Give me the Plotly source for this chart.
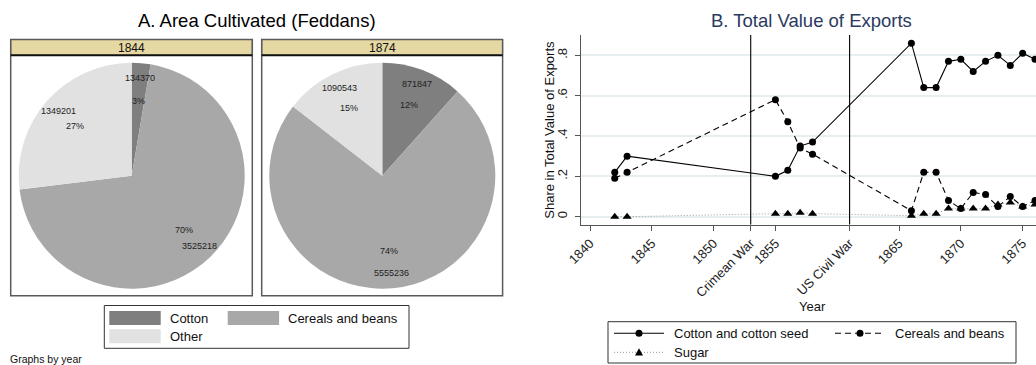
import math
import plotly.graph_objects as go

W, H = 1036, 365

# ---------------- Panel A data ----------------
pie_years = ["1844", "1874"]
crops = ["Cotton", "Cereals and beans", "Other"]
area_1844 = [134370, 3525218, 1349201]
area_1874 = [871847, 5555236, 1090543]
crop_colors = ["#7f7f7f", "#a8a8a8", "#e1e1e1"]

# ---------------- Panel B data ----------------
years = [1842, 1843, 1855, 1856, 1857, 1858, 1866, 1867, 1868, 1869,
         1870, 1871, 1872, 1873, 1874, 1875, 1876]
cotton_share = [0.22, 0.30, 0.20, 0.23, 0.35, 0.37, 0.86, 0.64, 0.64, 0.77,
                0.78, 0.72, 0.77, 0.80, 0.75, 0.81, 0.78]
cereals_share = [0.19, 0.22, 0.58, 0.47, 0.34, 0.31, 0.03, 0.22, 0.22, 0.08,
                 0.04, 0.12, 0.11, 0.05, 0.10, 0.05, 0.08]
sugar_share = [0.00, 0.00, 0.015, 0.015, 0.02, 0.015, 0.005, 0.015, 0.015, 0.04,
               0.04, 0.04, 0.04, 0.06, 0.07, 0.05, 0.06]
series_names = ["Cotton and cotton seed", "Cereals and beans", "Sugar"]
war_years = [1853, 1861]
war_labels = ["Crimean War", "US Civil War"]
x_tick_years = [1840, 1845, 1850, 1855, 1865, 1870, 1875]
y_tick_vals = [0, 0.2, 0.4, 0.6, 0.8]
y_tick_text = ["0", ".2", ".4", ".6", ".8"]
x_title = "Year"
y_title = "Share in Total Value of Exports"

FONT = "Liberation Sans, Arial, Helvetica, sans-serif"


def px(x):
    return x / W


def py(y):
    return 1 - y / H


fig = go.Figure()
shapes = []
annotations = []

# ---------------- Panel A: pies ----------------
pie_centers = [(131.7, 175.7), (382.3, 175.7)]
R = 113
panels = [(10.7, 252.3), (261.7, 502.6)]
for yr, vals, (cx, cy), (bx0, bx1) in zip(pie_years, [area_1844, area_1874], pie_centers, panels):
    shapes.append(dict(type="rect", xref="paper", yref="paper",
                       x0=px(bx0), x1=px(bx1), y0=py(295.7), y1=py(39.5),
                       line=dict(color="#5a5a5a", width=1.5), fillcolor="rgba(0,0,0,0)", layer="above"))
    shapes.append(dict(type="rect", xref="paper", yref="paper",
                       x0=px(bx0), x1=px(bx1), y0=py(55.3), y1=py(39.5),
                       line=dict(color="#5a5a5a", width=1), fillcolor="#e5d8a2", layer="below"))
    shapes.append(dict(type="line", xref="paper", yref="paper",
                       x0=px(bx0), x1=px(bx1), y0=py(55.3), y1=py(55.3),
                       line=dict(color="#111111", width=2), layer="above"))
    annotations.append(dict(text=yr, xref="paper", yref="paper", x=px((bx0 + bx1) / 2), y=py(47.6),
                            showarrow=False, xanchor="center", yanchor="middle",
                            font=dict(size=12, color="#111", family=FONT)))
    fig.add_trace(go.Pie(
        labels=crops, values=vals, sort=False, direction="clockwise", rotation=0,
        marker=dict(colors=crop_colors, line=dict(width=0)),
        textinfo="none", hoverinfo="label+value+percent", showlegend=False,
        domain=dict(x=[px(cx - R), px(cx + R)], y=[py(cy + R), py(cy - R)]),
    ))
    tot = sum(vals)
    cum = 0
    for v in vals:
        mid = (cum + v / 2) / tot * 2 * math.pi
        cum += v
        for f, txt in [(0.865, str(v)), (0.665, f"{round(100 * v / tot)}%")]:
            lx = cx + R * f * math.sin(mid)
            ly = cy - R * f * math.cos(mid)
            annotations.append(dict(text=txt, xref="paper", yref="paper", x=px(lx), y=py(ly),
                                    showarrow=False, xanchor="center", yanchor="middle",
                                    font=dict(size=9, color="#222", family=FONT)))

annotations.append(dict(text="A. Area Cultivated (Feddans)", xref="paper", yref="paper",
                        x=px(256.7), y=py(21), showarrow=False, xanchor="center", yanchor="middle",
                        font=dict(size=18.5, color="#000", family=FONT)))

# left legend (manual, swatches)
shapes.append(dict(type="rect", xref="paper", yref="paper", x0=px(104.3), x1=px(409),
                   y0=py(348.3), y1=py(305.5), line=dict(color="#333", width=1)))
leg_pos = [(109.3, 311, 168.3), (227.7, 311, 286), (109.3, 329.3, 168.3)]
for name, col, (sx, sy, tx) in zip(crops, crop_colors, leg_pos):
    shapes.append(dict(type="rect", xref="paper", yref="paper", x0=px(sx), x1=px(sx + 51.4),
                       y0=py(sy + 14), y1=py(sy), line=dict(width=0), fillcolor=col))
    annotations.append(dict(text=name, xref="paper", yref="paper", x=px(tx), y=py(sy + 7),
                            showarrow=False, xanchor="left", yanchor="middle",
                            font=dict(size=13, color="#111", family=FONT)))

annotations.append(dict(text="Graphs by year", xref="paper", yref="paper", x=px(8), y=py(359),
                        showarrow=False, xanchor="left", yanchor="middle",
                        font=dict(size=10.5, color="#111", family=FONT)))

# ---------------- Panel B: line chart ----------------
line_styles = [
    dict(color="#000", width=1.1, dash="solid"),
    dict(color="#000", width=1.1, dash="6px,4px"),
    dict(color="#9a9a9a", width=1, dash="1px,2px"),
]
marker_styles = [
    dict(symbol="circle", size=7, color="#000"),
    dict(symbol="circle", size=7, color="#000"),
    dict(symbol="triangle-up", size=8, color="#000"),
]
for name, ys, ls, ms in zip(series_names, [cotton_share, cereals_share, sugar_share], line_styles, marker_styles):
    fig.add_trace(go.Scatter(x=years, y=ys, name=name, mode="lines+markers",
                             line=ls, marker=ms, showlegend=False,
                             xaxis="x", yaxis="y"))

for wy in war_years:
    shapes.append(dict(type="line", xref="x", yref="y domain", x0=wy, x1=wy, y0=0, y1=1,
                       line=dict(color="#000", width=1.1)))

annotations.append(dict(text="B. Total Value of Exports", xref="paper", yref="paper",
                        x=px(811.7), y=py(21), showarrow=False, xanchor="center", yanchor="middle",
                        font=dict(size=18.5, color="#2a3a60", family=FONT)))
annotations.append(dict(text=x_title, xref="paper", yref="paper",
                        x=px(812.3), y=py(306), showarrow=False, xanchor="center", yanchor="middle",
                        font=dict(size=13, color="#111", family=FONT)))
annotations.append(dict(text=y_title, xref="paper", yref="paper", textangle=-90,
                        x=px(550), y=py(129.75), showarrow=False, xanchor="center", yanchor="middle",
                        font=dict(size=13, color="#111", family=FONT)))

# right legend (manual)
shapes.append(dict(type="rect", xref="paper", yref="paper", x0=px(608), x1=px(1016),
                   y0=py(363), y1=py(321.7), line=dict(color="#333", width=1)))
rleg = [(614, 333.3, 671.7), (835, 333.3, 893.3), (614, 352.3, 671.7)]
for name, ls, ms, (lx, ly, tx) in zip(series_names, line_styles, marker_styles, rleg):
    shapes.append(dict(type="line", xref="paper", yref="paper", x0=px(lx), x1=px(lx + 50),
                       y0=py(ly), y1=py(ly), line=ls))
    mx = lx + 25
    if ms["symbol"] == "circle":
        shapes.append(dict(type="circle", xref="paper", yref="paper", x0=px(mx - 3.5), x1=px(mx + 3.5),
                           y0=py(ly + 3.5), y1=py(ly - 3.5), line=dict(width=0), fillcolor="#000"))
    else:
        path = "M {:.4f} {:.4f} L {:.4f} {:.4f} L {:.4f} {:.4f} Z".format(
            px(mx - 4), py(ly + 3.2), px(mx + 4), py(ly + 3.2), px(mx), py(ly - 4))
        shapes.append(dict(type="path", xref="paper", yref="paper", path=path,
                           line=dict(width=0), fillcolor="#000"))
    annotations.append(dict(text=name, xref="paper", yref="paper", x=px(tx), y=py(ly),
                            showarrow=False, xanchor="left", yanchor="middle",
                            font=dict(size=13, color="#111", family=FONT)))

tickvals = sorted(x_tick_years + war_years)
ticktext = [war_labels[war_years.index(t)] if t in war_years else str(t) for t in tickvals]

fig.update_layout(
    width=W, height=H,
    margin=dict(l=0, r=0, t=0, b=0, pad=0),
    paper_bgcolor="white", plot_bgcolor="white",
    font=dict(family=FONT, size=13, color="#111"),
    shapes=shapes, annotations=annotations,
    showlegend=False,
    xaxis=dict(domain=[px(581), 1], range=[1839.27, 1876.08], automargin=False,
               tickvals=tickvals, ticktext=ticktext, tickangle=-45,
               showgrid=False, zeroline=False, showline=True, linecolor="#555", linewidth=1.2,
               ticks="outside", ticklen=5, tickcolor="#555",
               tickfont=dict(size=13, color="#222")),
    yaxis=dict(domain=[py(224.5), py(35)], range=[-0.0387, 0.9006], automargin=False,
               tickvals=y_tick_vals, ticktext=y_tick_text, tickangle=-90,
               showgrid=True, gridcolor="#e6eef0", gridwidth=1.5, zeroline=False,
               showline=True, linecolor="#555", linewidth=1.2,
               ticks="outside", ticklen=5, tickcolor="#555", ticklabelstandoff=3,
               tickfont=dict(size=13, color="#222")),
)

fig.write_html("out.html", config={"displayModeBar": False},
               post_script="document.body.style.margin='0px';")
